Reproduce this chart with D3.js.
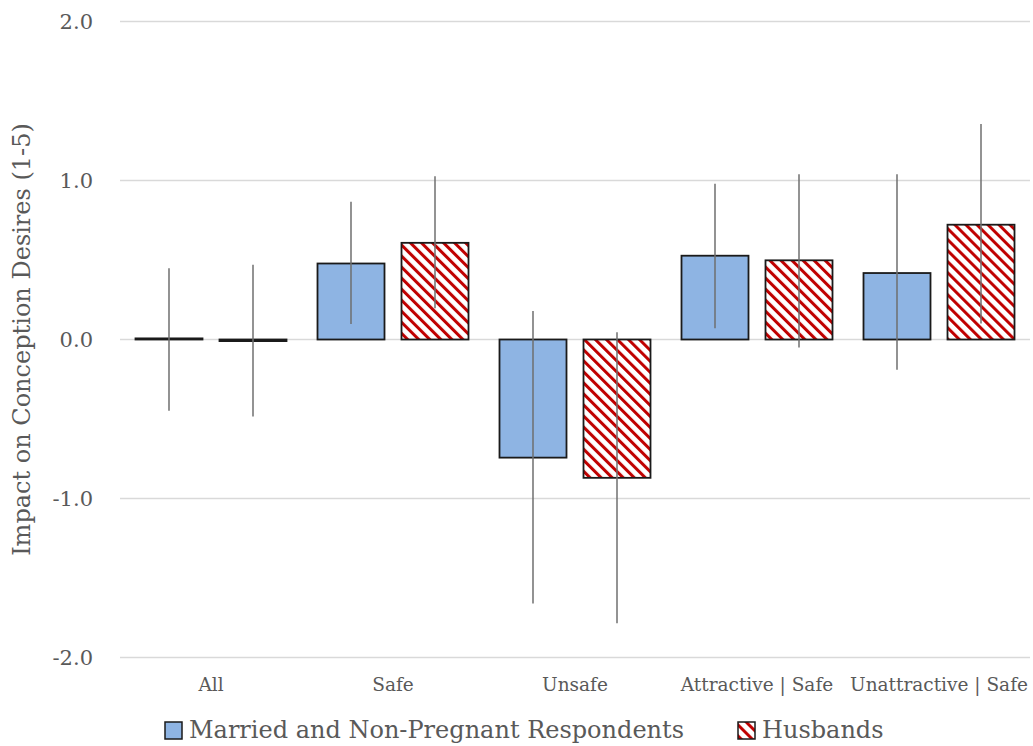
<!DOCTYPE html>
<html>
<head>
<meta charset="utf-8">
<script src="https://cdn.jsdelivr.net/npm/d3@7"></script>
<style>
  body { margin: 0; background: #fff; }
</style>
</head>
<body>
<div id="chart"></div>
<script>
// categories on the x axis
var categories = ["All", "Safe", "Unsafe", "Attractive | Safe", "Unattractive | Safe"];
var seriesNames = ["Married and Non-Pregnant Respondents", "Husbands"];

// point estimates and confidence interval ends
var married     = [0.007, 0.478, -0.743, 0.527, 0.418];
var marriedLow  = [-0.448, 0.098, -1.66, 0.07, -0.19];
var marriedHigh = [0.448, 0.866, 0.18, 0.98, 1.04];

var husbands     = [-0.01, 0.608, -0.87, 0.498, 0.722];
var husbandsLow  = [-0.485, 0.197, -1.785, -0.05, 0.10];
var husbandsHigh = [0.47, 1.026, 0.045, 1.04, 1.355];

var yTicks = [-2, -1, 0, 1, 2];

var W = 1033, H = 746;
var margin = {left: 120, right: 3, top: 21.5, bottom: 88.5};
var FONT = "'DejaVu Serif', 'Liberation Serif', serif";

var svg = d3.select("#chart").append("svg")
    .attr("width", W)
    .attr("height", H)
    .style("font-family", FONT);

// hatch pattern for husbands
var defs = svg.append("defs");
var pat = defs.append("pattern")
    .attr("id", "hatch")
    .attr("patternUnits", "userSpaceOnUse")
    .attr("width", 7.8)
    .attr("height", 7.8)
    .attr("patternTransform", "rotate(-45)");
pat.append("rect").attr("width", 7.8).attr("height", 7.8).attr("fill", "#fff");
pat.append("rect").attr("width", 3).attr("height", 7.8).attr("fill", "#c00000");

var x = d3.scaleBand()
    .domain(categories)
    .range([margin.left, W - margin.right])
    .paddingInner(0)
    .paddingOuter(0);

var xSub = d3.scaleBand()
    .domain(seriesNames)
    .range([0, x.bandwidth()])
    .paddingInner(0.2024)
    .paddingOuter(0.1845);

var y = d3.scaleLinear()
    .domain([-2, 2])
    .range([H - margin.bottom, margin.top]);

// gridlines
svg.append("g")
    .selectAll("line")
    .data(yTicks)
    .enter().append("line")
    .attr("x1", margin.left)
    .attr("x2", W - margin.right)
    .attr("y1", function(d) { return y(d); })
    .attr("y2", function(d) { return y(d); })
    .attr("stroke", "#d9d9d9")
    .attr("stroke-width", 1.3);

// y axis tick labels
svg.append("g")
    .selectAll("text")
    .data(yTicks)
    .enter().append("text")
    .attr("x", 93)
    .attr("y", function(d) { return y(d); })
    .attr("dy", "0.35em")
    .attr("text-anchor", "end")
    .attr("font-size", 21)
    .attr("fill", "#595959")
    .text(function(d) { return d.toFixed(1); });

// y axis title
svg.append("text")
    .attr("transform", "translate(30," + y(0) + ") rotate(-90)")
    .attr("text-anchor", "middle")
    .attr("font-size", 24)
    .attr("fill", "#595959")
    .text("Impact on Conception Desires (1-5)");

// bars
var rows = categories.map(function(c, i) {
    return [
        {cat: c, s: seriesNames[0], v: married[i], lo: marriedLow[i], hi: marriedHigh[i]},
        {cat: c, s: seriesNames[1], v: husbands[i], lo: husbandsLow[i], hi: husbandsHigh[i]}
    ];
});
var flat = [].concat.apply([], rows);

svg.append("g")
    .selectAll("rect")
    .data(flat)
    .enter().append("rect")
    .attr("x", function(d) { return x(d.cat) + xSub(d.s); })
    .attr("y", function(d) { return Math.min(y(d.v), y(0)); })
    .attr("width", xSub.bandwidth())
    .attr("height", function(d) { return Math.abs(y(d.v) - y(0)); })
    .attr("fill", function(d) { return d.s === seriesNames[0] ? "#8eb4e3" : "url(#hatch)"; })
    .attr("stroke", "#1a1a1a")
    .attr("stroke-width", 1.8);

// error bars
svg.append("g")
    .selectAll("line")
    .data(flat)
    .enter().append("line")
    .attr("x1", function(d) { return x(d.cat) + xSub(d.s) + xSub.bandwidth() / 2; })
    .attr("x2", function(d) { return x(d.cat) + xSub(d.s) + xSub.bandwidth() / 2; })
    .attr("y1", function(d) { return y(d.lo); })
    .attr("y2", function(d) { return y(d.hi); })
    .attr("stroke", "#6f6f6f")
    .attr("stroke-width", 1.5);

// category labels
svg.append("g")
    .selectAll("text")
    .data(categories)
    .enter().append("text")
    .attr("x", function(d) { return x(d) + x.bandwidth() / 2; })
    .attr("y", 691)
    .attr("text-anchor", "middle")
    .attr("font-size", 18.5)
    .attr("fill", "#595959")
    .text(function(d) { return d; });

// legend
var legend = [
    {name: seriesNames[0], fill: "#8eb4e3", x: 165},
    {name: seriesNames[1], fill: "url(#hatch)", x: 738}
];
var lg = svg.append("g").selectAll("g")
    .data(legend)
    .enter().append("g");
lg.append("rect")
    .attr("x", function(d) { return d.x; })
    .attr("y", 722)
    .attr("width", 17)
    .attr("height", 17)
    .attr("fill", function(d) { return d.fill; })
    .attr("stroke", "#1a1a1a")
    .attr("stroke-width", 1.5);
lg.append("text")
    .attr("x", function(d) { return d.x + 24; })
    .attr("y", 738)
    .attr("font-size", 24)
    .attr("fill", "#595959")
    .text(function(d) { return d.name; });
</script>
</body>
</html>
